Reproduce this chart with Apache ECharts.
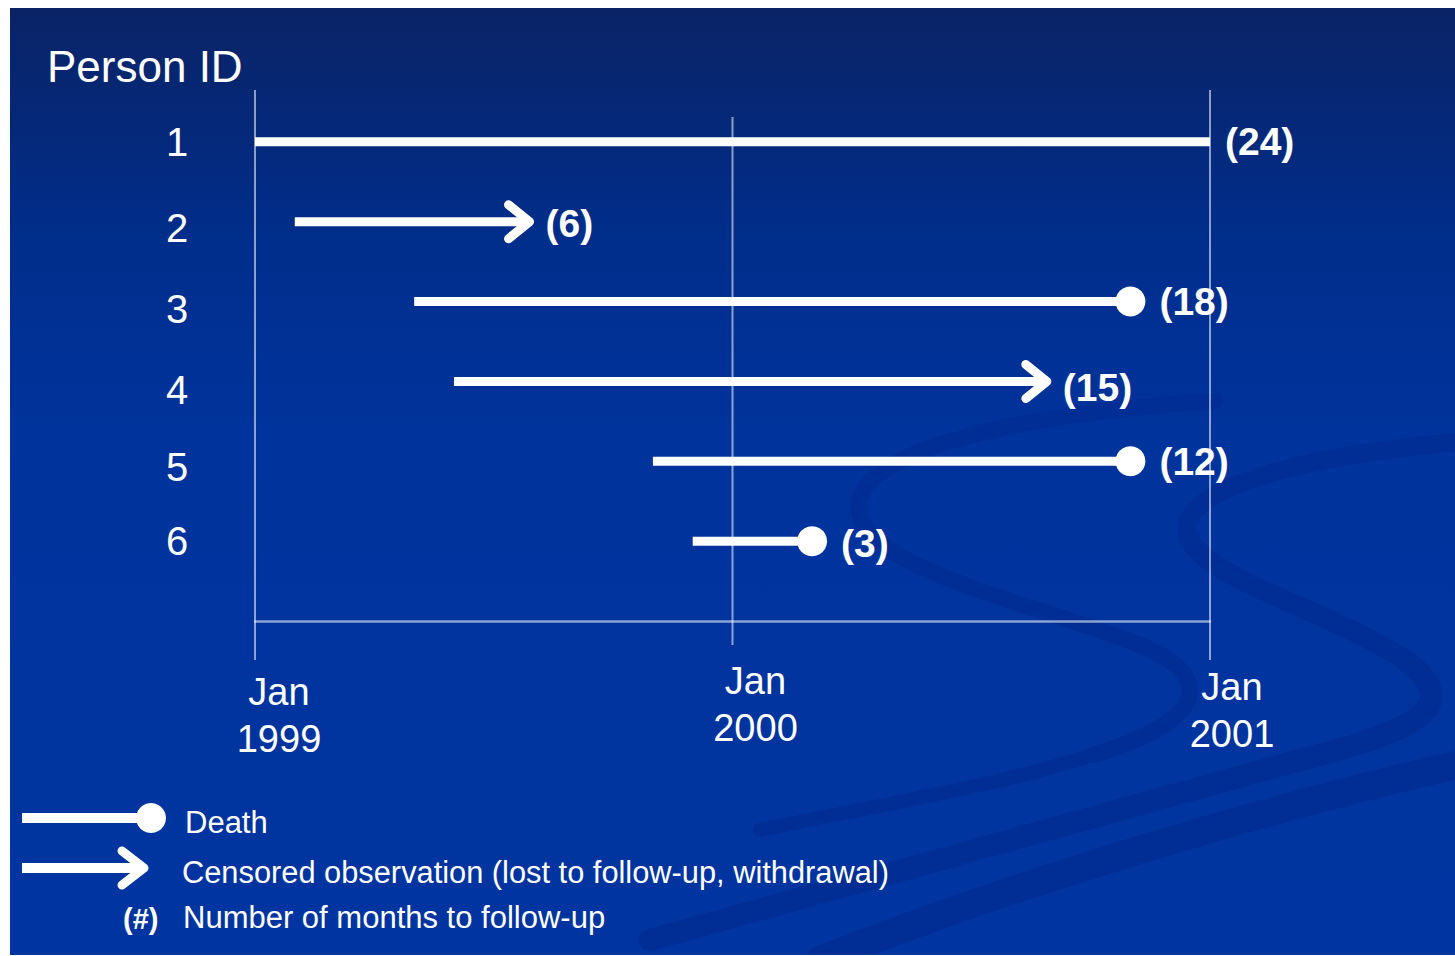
<!DOCTYPE html>
<html>
<head>
<meta charset="utf-8">
<script src="https://cdn.jsdelivr.net/npm/echarts@6/dist/echarts.min.js"></script>
<style>
  html, body { margin: 0; padding: 0; background: #ffffff; }
  #chart { position: absolute; left: 0; top: 0; width: 1455px; height: 956px; }
</style>
</head>
<body>
<div id="chart"></div>
<script>
// ---- data ----
const personIds   = ['1', '2', '3', '4', '5', '6'];
const startMonth  = [0, 1, 4, 5, 10, 11];          // months after Jan 1999
const followUp    = [24, 6, 18, 15, 12, 3];        // months of follow-up
const outcome     = ['end', 'censored', 'death', 'censored', 'death', 'death'];
const xTicks      = [0, 12, 24];
const xTickLabels = ['Jan\n1999', 'Jan\n2000', 'Jan\n2001'];
const legendLabels = ['Death', 'Censored observation (lost to follow-up, withdrawal)', 'Number of months to follow-up'];
const titleText = 'Person ID';

const FONT = '"Liberation Sans", Arial, sans-serif';
const WHITE = '#ffffff';
const FRAME = 'rgba(255,255,255,0.55)';
const SWOOSH = '#002e94';

const eventData = personIds.map((id, i) => [startMonth[i], startMonth[i] + followUp[i], i + 1, followUp[i]]);

function renderEvent(params, api) {
  const labelDy = [0, 2, 0, 6, 0, 2];
  const start = api.value(0), end = api.value(1), row = api.value(2), months = api.value(3);
  const kind = outcome[params.dataIndex];
  const p0 = api.coord([start, row]);
  const p1 = api.coord([end, row]);
  const y = p0[1];
  const W = 9;
  const children = [];
  let labelX;
  if (kind === 'death') {
    children.push({ type: 'line', shape: { x1: p0[0], y1: y, x2: p1[0], y2: y }, style: { stroke: WHITE, lineWidth: W, lineCap: 'butt' } });
    children.push({ type: 'circle', shape: { cx: p1[0], cy: y, r: 15 }, style: { fill: WHITE } });
    labelX = p1[0] + 29;
  } else if (kind === 'censored') {
    const tip = p1[0] - 4;
    children.push({ type: 'line', shape: { x1: p0[0], y1: y, x2: tip, y2: y }, style: { stroke: WHITE, lineWidth: W, lineCap: 'butt' } });
    children.push({ type: 'polyline', shape: { points: [[tip - 21, y - 17], [tip, y], [tip - 21, y + 17]] }, style: { stroke: WHITE, fill: 'none', lineWidth: W, lineCap: 'round', lineJoin: 'round' } });
    labelX = p1[0] + 12;
  } else {
    children.push({ type: 'line', shape: { x1: p0[0], y1: y, x2: p1[0], y2: y }, style: { stroke: WHITE, lineWidth: W, lineCap: 'butt' } });
    labelX = p1[0] + 15;
  }
  children.push({
    type: 'text',
    style: { text: '(' + months + ')', x: labelX, y: y + labelDy[params.dataIndex], fill: WHITE, fontSize: 39, fontWeight: 'bold', fontFamily: FONT, align: 'left', verticalAlign: 'middle' }
  });
  return { type: 'group', children: children };
}

function renderFrame(params, api) {
  const ext = [[90, 660], [117, 645], [90, 660]][params.dataIndex];
  const x = api.coord([api.value(0), 1])[0];
  return { type: 'line', shape: { x1: x, y1: ext[0], x2: x, y2: ext[1] }, style: { stroke: FRAME, lineWidth: 2 } };
}

function lbl(lh, padLeft) {
  return { padding: [0, 0, 0, padLeft], fontSize: 38, lineHeight: lh, color: WHITE, fontFamily: FONT };
}
const xRich = {
  t0: lbl(69, 48), b0: lbl(25, 48),
  t1: lbl(47, 46), b1: lbl(47, 46),
  t2: lbl(59, 44), b2: lbl(35, 44)
};

const yRich = {};
const yShift = [0, 12, 14, 18, 12, 0];
personIds.forEach((id, i) => {
  yRich['p' + i] = { padding: [yShift[i], 0, 0, 0], fontSize: 40, color: WHITE, fontFamily: FONT };
});

function bez(p, lw) {
  return { type: 'bezierCurve', z: -90, silent: true,
    shape: { x1: p[0], y1: p[1], cpx1: p[2], cpy1: p[3], cpx2: p[4], cpy2: p[5], x2: p[6], y2: p[7] },
    style: { fill: 'none', stroke: SWOOSH, lineWidth: lw, lineCap: 'round' } };
}

const swooshes = [
  bez([1215, 401, 1000, 415, 850, 455, 859, 512], 16),
  bez([859, 512, 868, 570, 1040, 605, 1140, 645], 16),
  bez([1140, 645, 1215, 675, 1210, 720, 1093, 755], 16),
  bez([1093, 755, 1000, 785, 880, 805, 760, 830], 14),
  bez([1470, 441, 1300, 455, 1175, 490, 1188, 535], 18),
  bez([1188, 535, 1200, 578, 1330, 610, 1405, 660], 20),
  bez([1405, 660, 1465, 705, 1420, 730, 1300, 760], 22),
  bez([1300, 760, 1150, 800, 900, 870, 650, 940], 22),
  bez([1470, 762, 1300, 800, 1050, 870, 820, 960], 28)
];

const chart = echarts.init(document.getElementById('chart'), null, { renderer: 'svg', width: 1455, height: 956 });

chart.setOption({
  animation: false,
  backgroundColor: 'transparent',
  title: {
    text: titleText, left: 42, top: 39,
    textStyle: { color: WHITE, fontSize: 44, fontWeight: 'normal', fontFamily: FONT }
  },
  grid: { left: 255, right: 245, top: 62, bottom: 335, containLabel: false },
  xAxis: {
    type: 'value', min: 0, max: 24, interval: 12, position: 'bottom',
    axisLine: { show: true, onZero: false, lineStyle: { color: FRAME, width: 2.5 } },
    axisTick: { show: false },
    splitLine: { show: false },
    axisLabel: {
      margin: 36,
      formatter: function (v) {
        const i = xTicks.indexOf(v);
        if (i < 0) return '';
        const parts = xTickLabels[i].split('\n');
        return '{t' + i + '|' + parts[0] + '}\n{b' + i + '|' + parts[1] + '}';
      },
      rich: xRich
    }
  },
  yAxis: {
    type: 'value', min: 0, max: 7, interval: 1, inverse: true,
    axisLine: { show: false }, axisTick: { show: false }, splitLine: { show: false },
    axisLabel: {
      margin: 78, align: 'center',
      formatter: function (v) {
        const i = v - 1;
        if (i < 0 || i >= personIds.length) return '';
        return '{p' + i + '|' + personIds[i] + '}';
      },
      rich: yRich
    }
  },
  graphic: [
    {
      type: 'rect', z: -100, silent: true,
      shape: { x: 10, y: 8, width: 1445, height: 947 },
      style: {
        fill: new echarts.graphic.LinearGradient(0, 0, 0, 1, [
          { offset: 0, color: '#0a2366' },
          { offset: 0.25, color: '#002e8c' },
          { offset: 0.45, color: '#00339c' },
          { offset: 1, color: '#0034a0' }
        ])
      }
    },
    {
      type: 'group', z: -90, silent: true,
      clipPath: { type: 'rect', shape: { x: 10, y: 8, width: 1445, height: 947 } },
      children: swooshes
    },
    // legend
    { type: 'line', z: 10, shape: { x1: 22, y1: 818, x2: 150, y2: 818 }, style: { stroke: WHITE, lineWidth: 10 } },
    { type: 'circle', z: 10, shape: { cx: 151, cy: 818, r: 15 }, style: { fill: WHITE } },
    { type: 'text', z: 10, style: { text: legendLabels[0], x: 185, y: 822, fill: WHITE, fontSize: 31, fontFamily: FONT, verticalAlign: 'middle' } },
    { type: 'line', z: 10, shape: { x1: 22, y1: 868, x2: 143, y2: 868 }, style: { stroke: WHITE, lineWidth: 10 } },
    { type: 'polyline', z: 10, shape: { points: [[122, 851], [144, 868], [122, 885]] }, style: { stroke: WHITE, fill: 'none', lineWidth: 9, lineCap: 'round', lineJoin: 'round' } },
    { type: 'text', z: 10, style: { text: legendLabels[1], x: 182, y: 872, fill: WHITE, fontSize: 30.8, fontFamily: FONT, verticalAlign: 'middle' } },
    { type: 'text', z: 10, style: { text: '(#)', x: 123, y: 919, fill: WHITE, fontSize: 29, fontWeight: 'bold', fontFamily: FONT, verticalAlign: 'middle' } },
    { type: 'text', z: 10, style: { text: legendLabels[2], x: 183, y: 917, fill: WHITE, fontSize: 31, fontFamily: FONT, verticalAlign: 'middle' } }
  ],
  series: [
    { type: 'custom', name: 'frame', z: 1, silent: true, renderItem: renderFrame, data: xTicks.map(t => [t]), clip: false },
    { type: 'custom', name: 'follow-up', z: 3, renderItem: renderEvent, data: eventData, clip: false, encode: { x: [0, 1], y: 2 } }
  ]
});
</script>
</body>
</html>
